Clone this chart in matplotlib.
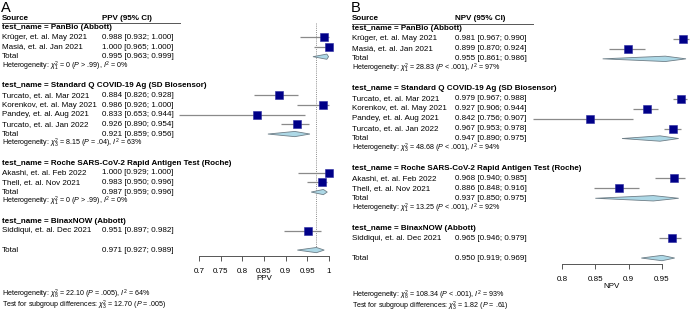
import matplotlib
matplotlib.use("Agg")
import matplotlib.pyplot as plt
import matplotlib.transforms as mtransforms
from matplotlib.patches import Polygon

plt.rcParams['font.family'] = ['Liberation Sans', 'DejaVu Sans']
plt.rcParams['mathtext.fontset'] = 'custom'
plt.rcParams['mathtext.rm'] = 'Liberation Sans'
plt.rcParams['mathtext.it'] = 'Liberation Sans:italic'
plt.rcParams['mathtext.bf'] = 'Liberation Sans:bold'

W, H = 691, 314

# ---- data ----
groups = ["PanBio (Abbott)", "Standard Q COVID-19 Ag (SD Biosensor)",
          "Roche SARS-CoV-2 Rapid Antigen Test (Roche)", "BinaxNOW (Abbott)"]

studies = ["Krüger, et. al. May 2021", "Masiá, et. al. Jan 2021",
           "Turcato, et. al. Mar 2021", "Korenkov, et. al. May 2021",
           "Pandey, et. al. Aug 2021", "Turcato, et. al. Jan 2022",
           "Akashi, et. al. Feb 2022", "Thell, et. al. Nov 2021",
           "Siddiqui, et. al. Dec 2021"]
study_group = [0, 0, 1, 1, 1, 1, 2, 2, 3]

ppv_est = [0.988, 1.000, 0.884, 0.986, 0.833, 0.926, 1.000, 0.983, 0.951]
ppv_lo = [0.932, 0.965, 0.826, 0.926, 0.653, 0.890, 0.929, 0.950, 0.897]
ppv_hi = [1.000, 1.000, 0.928, 1.000, 0.944, 0.954, 1.000, 0.996, 0.982]
ppv_grp_est = [0.995, 0.921, 0.987, None]
ppv_grp_lo = [0.963, 0.859, 0.959, None]
ppv_grp_hi = [0.999, 0.956, 0.996, None]
ppv_grp_het = [r"Heterogeneity: $\chi^2_1$ = 0 ($P$ > .99), $I^2$ = 0%",
               r"Heterogeneity: $\chi^2_3$ = 8.15 ($P$ = .04), $I^2$ = 63%",
               r"Heterogeneity: $\chi^2_1$ = 0 ($P$ > .99), $I^2$ = 0%", None]
ppv_total = (0.971, 0.927, 0.989)
ppv_het = r"Heterogeneity: $\chi^2_8$ = 22.10 ($P$ = .005), $I^2$ = 64%"
ppv_test = r"Test for subgroup differences: $\chi^2_3$ = 12.70 ($P$ = .005)"
ppv_ticks = [0.7, 0.75, 0.8, 0.85, 0.9, 0.95, 1.0]
ppv_ticklabels = ["0.7", "0.75", "0.8", "0.85", "0.9", "0.95", "1"]

npv_est = [0.981, 0.899, 0.979, 0.927, 0.842, 0.967, 0.968, 0.886, 0.965]
npv_lo = [0.967, 0.870, 0.967, 0.906, 0.756, 0.953, 0.940, 0.848, 0.946]
npv_hi = [0.990, 0.924, 0.988, 0.944, 0.907, 0.978, 0.985, 0.916, 0.979]
npv_grp_est = [0.955, 0.947, 0.937, None]
npv_grp_lo = [0.861, 0.890, 0.850, None]
npv_grp_hi = [0.986, 0.975, 0.975, None]
npv_grp_het = [r"Heterogeneity: $\chi^2_1$ = 28.83 ($P$ < .001), $I^2$ = 97%",
               r"Heterogeneity: $\chi^2_3$ = 48.68 ($P$ < .001), $I^2$ = 94%",
               r"Heterogeneity: $\chi^2_1$ = 13.25 ($P$ < .001), $I^2$ = 92%", None]
npv_total = (0.950, 0.919, 0.969)
npv_het = r"Heterogeneity: $\chi^2_8$ = 108.34 ($P$ < .001), $I^2$ = 93%"
npv_test = r"Test for subgroup differences: $\chi^2_3$ = 1.82 ($P$ = .61)"
npv_ticks = [0.8, 0.85, 0.9, 0.95]
npv_ticklabels = ["0.8", "0.85", "0.9", "0.95"]

FS = 5.8
FS_HET = 5.1
SQ = '#000088'
DIA = '#ADD8E6'


def fmt(e, l, h):
    return f"{e:.3f} [{l:.3f}; {h:.3f}]"


def forest(fig, letter, col, px_name, px_est, px_x0, px_x1, xlim, row0, drow,
           est, lo, hi, gest, glo, ghi, ghet, total, het, test,
           ticks, ticklabels, xlabel, px_line_end, px_foot):
    # axes spans full figure height; x in value units, y in row units
    ax = fig.add_axes([px_x0 / W, 0, (px_x1 - px_x0) / W, 1])
    ax.set_xlim(*xlim)
    ax.set_ylim((H - row0) / drow, -row0 / drow)
    ax.patch.set_visible(False)
    for s in ['top', 'left', 'right']:
        ax.spines[s].set_visible(False)
    tr = mtransforms.blended_transform_factory(fig.transFigure, ax.transData)

    def t(px, row, s, **kw):
        kw.setdefault('fontsize', FS)
        ax.text(px / W, row, s, transform=tr, va='center', ha='left', **kw)

    fig.text((px_name - 1) / W, 1 - 8 / H, letter, fontsize=10.5, va='center', ha='left')
    t(px_name, 0, "Source", fontweight='bold')
    t(px_est, 0, f"{col} (95% CI)", fontweight='bold')
    ax.plot([px_name / W, px_line_end / W], [0.5, 0.5], transform=tr,
            color='#555555', lw=0.7, clip_on=False)

    row = 1
    srow = []
    dh = 0.27
    for g, name in enumerate(groups):
        t(px_name, row, f"test_name = {name}", fontweight='bold')
        row += 1
        for i, sg in enumerate(study_group):
            if sg == g:
                t(px_name, row, studies[i])
                t(px_est, row, fmt(est[i], lo[i], hi[i]))
                srow.append(row)
                row += 1
        if gest[g] is not None:
            t(px_name, row, "Total")
            t(px_est, row, fmt(gest[g], glo[g], ghi[g]))
            ax.add_patch(Polygon([(glo[g], row), (gest[g], row - dh), (ghi[g], row),
                                  (gest[g], row + dh)], closed=True,
                                 fc=DIA, ec='#6f7f88', lw=0.6, clip_on=False))
            row += 1
            t(px_name, row, ghet[g], fontsize=FS_HET)
            row += 1
        row += 1
    total_row = row
    t(px_name, total_row, "Total")
    t(px_est, total_row, fmt(*total))
    ax.add_patch(Polygon([(total[1], total_row), (total[0], total_row - dh),
                          (total[2], total_row), (total[0], total_row + dh)],
                         closed=True, fc=DIA, ec='#6f7f88', lw=0.6, clip_on=False))

    ax.vlines(total[0], 0.55, total_row, colors='#8c8c8c', linestyles=(0, (1, 1.2)),
              lw=0.7, zorder=0)
    ax.hlines(srow, lo, hi, colors='#8a8a8a', lw=0.9, clip_on=False, zorder=1)
    ax.plot(est, srow, 's', ms=5.6, mfc=SQ, mec='#2a2aa0', mew=0.4,
            clip_on=False, zorder=2, ls='none')

    axis_row = total_row + 0.6
    ax.spines['bottom'].set_position(('data', axis_row))
    ax.spines['bottom'].set_bounds(ticks[0], ticks[-1])
    ax.spines['bottom'].set_color('#555555')
    ax.spines['bottom'].set_linewidth(0.7)
    ax.set_xticks(ticks)
    ax.set_xticklabels(ticklabels)
    ax.tick_params(axis='x', direction='out', length=3.8, width=0.7,
                   color='#555555', labelsize=FS, pad=5)
    ax.set_yticks([])
    ax.text((ticks[0] + ticks[-1]) / 2, axis_row + 2.3, xlabel, fontsize=FS,
            ha='center', va='center')
    # overall heterogeneity + subgroup test as one two-line block
    fig.text(px_name / W, 1 - px_foot / H, het + "\n" + test, fontsize=FS_HET,
             va='center', ha='left', linespacing=0.8)
    return ax


fig = plt.figure(figsize=(W / 100, H / 100), dpi=100)
fig.patch.set_facecolor('white')

forest(fig, "A", "PPV", 2, 102, 199, 329, (0.7, 1.0), 18, 9.67,
       ppv_est, ppv_lo, ppv_hi, ppv_grp_est, ppv_grp_lo, ppv_grp_hi, ppv_grp_het,
       ppv_total, ppv_het, ppv_test, ppv_ticks, ppv_ticklabels, "PPV", 180, 300)
forest(fig, "B", "NPV", 352, 455, 562, 662, (0.8, 0.95), 19, 9.96,
       npv_est, npv_lo, npv_hi, npv_grp_est, npv_grp_lo, npv_grp_hi, npv_grp_het,
       npv_total, npv_het, npv_test, npv_ticks, npv_ticklabels, "NPV", 533, 301)

fig.savefig("out.png", dpi=100)
